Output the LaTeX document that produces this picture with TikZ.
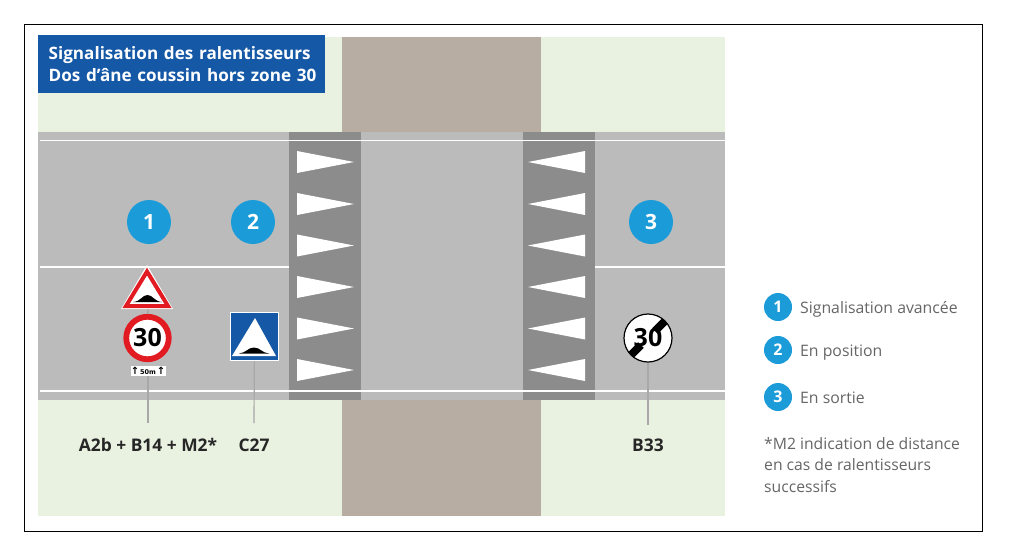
\documentclass[tikz,border=0pt]{standalone}
\usepackage{fontspec}
\setmainfont{Open Sans}
\newfontfamily\symbfont{DejaVu Sans}
\usetikzlibrary{arrows,shapes,positioning}
\definecolor{sgblue}{RGB}{21,88,166}
\definecolor{sgsky}{RGB}{27,156,217}
\definecolor{sgred}{RGB}{226,26,34}
\definecolor{sggreen}{RGB}{233,241,224}
\definecolor{sgtan}{RGB}{184,173,162}
\definecolor{sgroad}{RGB}{187,187,187}
\definecolor{sgstrip}{RGB}{140,140,140}
\definecolor{sgpole}{RGB}{168,168,168}
\definecolor{sgtext}{RGB}{102,102,102}
\tikzstyle{badge} = [circle,fill=sgsky,text=white,inner sep=0pt,font=\bfseries\fontsize{21}{21}\selectfont,minimum size=44pt]
\tikzstyle{smallbadge} = [circle,fill=sgsky,text=white,inner sep=0pt,font=\bfseries\fontsize{16}{16}\selectfont,minimum size=28pt]
\tikzstyle{legend} = [right,inner sep=0pt,text=sgtext,font=\fontsize{15.8}{15.8}\selectfont]
\tikzstyle{pole} = [color=sgpole,line width=1.6pt]
\tikzstyle{signlabel} = [inner sep=0pt,anchor=north,text height=12pt,text depth=0pt,yshift=-16pt,font=\bfseries\fontsize{17.4}{17.4}\selectfont,text=black!85]
\tikzstyle{roadline} = [color=white,line width=1.3pt]
\tikzstyle{chevron} = [fill=white]
\tikzstyle{hump} = [fill=black]
\begin{document}
\begin{tikzpicture}[x=1pt,y=-1pt]
\useasboundingbox (0,0) rectangle (1018,550);
\fill[white] (0,0) rectangle (1018,550);
\draw[black,line width=1pt] (24.5,24.5) rectangle (982.5,531);

% Ground and road
\fill[sggreen] (38,37) rectangle (725,516);
\fill[sgtan] (342,37) rectangle (541,516);
\fill[sgroad] (38,132) rectangle (725,400);
\fill[sgstrip] (289,132) rectangle (361,400);
\fill[sgstrip] (523,132) rectangle (595,400);

% Road lines
\draw[roadline] (40,140.5) -- (725,140.5);
\draw[roadline] (40,391) -- (725,391);
\draw[roadline] (40,267) -- (289,267);
\draw[roadline] (595,267) -- (725,267);

% Triangles on the ramps
\foreach \y in {162,204,245.5,287,328.5,370} {
  \fill[chevron] (297,\y-11) -- (354,\y) -- (297,\y+11) -- cycle;
  \fill[chevron] (585,\y-11) -- (528,\y) -- (585,\y+11) -- cycle;
}

% Title
\node[fill=sgblue,text=white,align=left,anchor=north west,minimum width=287pt,minimum height=58pt,text width=266pt,inner sep=0pt,font=\bfseries\fontsize{17.1}{21.5}\selectfont] (title) at (38,35) {\mbox{Signalisation des ralentisseurs}\\\mbox{Dos d’âne coussin hors zone 30}};

% Numbers on the road
\node[badge] (n1) at (149,222) {1};
\node[badge] (n2) at (253,222) {2};
\node[badge] (n3) at (651,222) {3};

% Labels under the signs
\coordinate (a2b) at (148,300);
\coordinate (c1) at (148,423);
\coordinate (c2) at (254,423);
\coordinate (c3) at (648,425);
\node[signlabel] (l1) at (c1) {A2b + B14 + M2*};
\node[signlabel] (l2) at (c2) {C27};
\node[signlabel,yshift=2pt] (l3) at (c3) {B33};

% Signs
\node[draw=white,fill=sgblue,line width=1.2pt,minimum size=48pt,inner sep=0pt] (c27) at (254.5,336.5) {};
\node[draw=sgred,fill=white,circle,line width=5.8pt,minimum size=42.5pt,inner sep=0pt,font=\bfseries\fontsize{25}{25}\selectfont,text=black] (b14) at (147.5,338) {30};
\node[draw=black,fill=white,circle,line width=1.2pt,minimum size=48pt,inner sep=0pt] (b33) at (648,338) {};
\node[fill=white,minimum width=35pt,minimum height=10pt,inner sep=0pt,font=\symbfont\bfseries\fontsize{6.5}{7}\selectfont] (m2) at (148,370.5) {\makebox[34.5pt]{\fontsize{10}{10}\selectfont ↑\hfill\fontsize{6.5}{7}\selectfont 50m\hfill\fontsize{10}{10}\selectfont ↑}};

% Poles
\draw[pole] (a2b) -- (b14);
\draw[pole] (m2) -- (c1);
\draw[pole,line width=1.2pt] (c27) -- (c2);
\draw[pole,line width=1.2pt] (b33) -- (c3);

% A2b triangle
\fill[white] (147,265) -- (173,309) -- (121,309) -- cycle;
\draw[sgred,fill=white,line width=4pt,line join=miter] (147,271.5) -- (168,306) -- (126,306) -- cycle;
\fill[hump] (133,302) .. controls (141,301.5) and (142,295) .. (147.5,295) .. controls (153,295) and (154,301.5) .. (162,302) -- cycle;

% C27 triangle
\fill[white] (255,318) -- (276,356) -- (232,356) -- cycle;
\fill[hump] (239,353.5) .. controls (246,353) and (248,347.5) .. (254,347.5) .. controls (260,347.5) and (262,353) .. (269,353.5) -- cycle;

% B33 bar and digits
\draw[black,line width=8pt] (631,355) -- (641,345);
\draw[black,line width=8pt] (655,331) -- (665,321);
\node[inner sep=0pt,font=\bfseries\fontsize{25}{25}\selectfont,text=black] (b33num) at (648,338) {30};

% Legend
\node[smallbadge] (k1) at (778,307) {1};
\node[smallbadge] (k2) at (778,350) {2};
\node[smallbadge] (k3) at (778,397) {3};
\node[legend] (t1) at (800,309) {Signalisation avancée};
\node[legend] (t2) at (800,352.5) {En position};
\node[legend] (t3) at (800,398) {En sortie};
\node[anchor=north west,align=left,inner sep=0pt,text=sgtext,font=\fontsize{15.7}{21.5}\selectfont] (note) at (764,437) {*M2 indication de distance\\en cas de ralentisseurs\\successifs};
\end{tikzpicture}
\end{document}
